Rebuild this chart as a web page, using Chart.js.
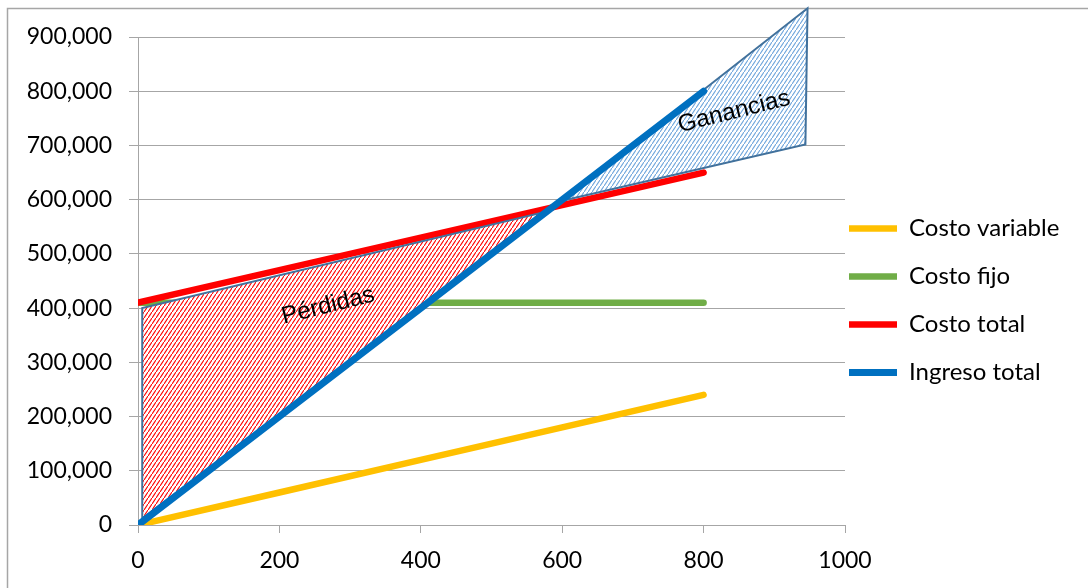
<!DOCTYPE html>
<html>
<head>
<meta charset="utf-8">
<script src="https://cdn.jsdelivr.net/npm/chart.js@4.4.1/dist/chart.umd.min.js"></script>
<style>
  html, body { margin: 0; padding: 0; background: #fff; }
  #wrap { width: 1088px; height: 588px; }
</style>
</head>
<body>
<div id="wrap"><canvas id="equilibrioChart"></canvas></div>
<script>
// datos del punto de equilibrio
const unidades = [0, 200, 400, 600, 800];
const costoVariable = [0, 60000, 120000, 180000, 240000];
const costoFijo = [410000, 410000, 410000, 410000, 410000];
const costoTotal = [410000, 470000, 530000, 590000, 650000];
const ingresoTotal = [0, 200000, 400000, 600000, 800000];

const xTicks = [0, 200, 400, 600, 800, 1000];
const yTicks = [0, 100000, 200000, 300000, 400000, 500000, 600000, 700000, 800000, 900000];

// zonas sombreadas (formas encima del grafico), en unidades de los ejes
const zonaPerdidas = [[6, 400000], [6, 12000], [578, 578000]];
const zonaGanancias = [[600, 598000], [947, 953000], [944, 702000]];

const FONT = 'Lato, "Open Sans", sans-serif';

function toPoints(ys) {
  return unidades.map((u, i) => ({ x: u, y: ys[i] }));
}

function hatch(color) {
  const c = document.createElement('canvas');
  c.width = 4; c.height = 6;
  const g = c.getContext('2d');
  g.fillStyle = '#fff';
  g.fillRect(0, 0, 4, 6);
  g.strokeStyle = color;
  g.lineWidth = 1.1;
  g.beginPath();
  g.moveTo(-1, 7.5);
  g.lineTo(5, -1.5);
  g.stroke();
  return g.createPattern(c, 'repeat');
}

const marcoPlugin = {
  id: 'marco',
  beforeDraw(chart) {
    const ctx = chart.ctx;
    ctx.save();
    ctx.fillStyle = '#fff';
    ctx.fillRect(0, 0, chart.width, chart.height);
    ctx.strokeStyle = '#a6a6a6';
    ctx.lineWidth = 1.5;
    ctx.beginPath();
    ctx.moveTo(7.5, chart.height);
    ctx.lineTo(7.5, 8.5);
    ctx.lineTo(chart.width, 8.5);
    ctx.stroke();
    ctx.restore();
  }
};

const zonasPlugin = {
  id: 'zonas',
  beforeDatasetDraw(chart, args) {
    if (args.index !== 3) return;   // justo antes de "Ingreso total"
    const { ctx, scales: { x, y } } = chart;
    [[zonaPerdidas, hatch('#ff0000')], [zonaGanancias, hatch('#6fa6dc')]].forEach(([pts, fill]) => {
      ctx.save();
      ctx.beginPath();
      pts.forEach(([vx, vy], i) => {
        const px = x.getPixelForValue(vx), py = y.getPixelForValue(vy);
        if (i) ctx.lineTo(px, py); else ctx.moveTo(px, py);
      });
      ctx.closePath();
      ctx.fillStyle = fill;
      ctx.fill();
      ctx.strokeStyle = '#41719c';
      ctx.lineWidth = 2;
      ctx.stroke();
      ctx.restore();
    });
  },
  afterDatasetsDraw(chart) {
    const { ctx, scales: { x, y } } = chart;
    const textos = [['Pérdidas', 269, 404000], ['Ganancias', 843, 762000]];
    textos.forEach(([t, vx, vy]) => {
      ctx.save();
      ctx.translate(x.getPixelForValue(vx), y.getPixelForValue(vy));
      ctx.rotate(-14 * Math.PI / 180);
      ctx.font = '24px "Liberation Sans", Arial, sans-serif';
      ctx.fillStyle = '#000';
      ctx.textAlign = 'center';
      ctx.textBaseline = 'middle';
      ctx.fillText(t, 0, 0);
      ctx.restore();
    });
  }
};

// mueve la leyenda hacia el grafico
const leyendaPlugin = {
  id: 'leyendaPos',
  afterLayout(chart) {
    const l = chart.legend;
    const dx = 849 - 24 - l.left;
    l.left += dx; l.right += dx;
    l.top -= 12; l.bottom -= 12;
  }
};

const ctx = document.getElementById('equilibrioChart').getContext('2d');

new Chart(ctx, {
  type: 'line',
  data: {
    datasets: [
      { label: 'Costo variable', data: toPoints(costoVariable), borderColor: '#ffc000', backgroundColor: '#ffc000', borderWidth: 6.5, order: 3 },
      { label: 'Costo fijo', data: toPoints(costoFijo), borderColor: '#70ad47', backgroundColor: '#70ad47', borderWidth: 6.5, order: 2 },
      { label: 'Costo total', data: toPoints(costoTotal), borderColor: '#ff0000', backgroundColor: '#ff0000', borderWidth: 6.5, order: 1 },
      { label: 'Ingreso total', data: toPoints(ingresoTotal), borderColor: '#0070c0', backgroundColor: '#0070c0', borderWidth: 7, order: 0 }
    ]
  },
  options: {
    responsive: true,
    maintainAspectRatio: false,
    animation: false,
    devicePixelRatio: 1,
    layout: { padding: { top: 37, left: 0, right: 0, bottom: 0 } },
    elements: {
      line: { borderCapStyle: 'round', tension: 0 },
      point: { radius: 0 }
    },
    scales: {
      x: {
        type: 'linear',
        min: 0, max: 1000,
        afterBuildTicks: s => { s.ticks = xTicks.map(v => ({ value: v })); },
        afterFit: s => { s.height = 63; },
        grid: { drawOnChartArea: false, color: '#a6a6a6', tickLength: 8 },
        border: { color: '#a6a6a6' },
        ticks: { font: { family: FONT, size: 23 }, color: '#000', padding: 14, maxRotation: 0, callback: v => String(v) }
      },
      y: {
        min: 0, max: 900000,
        afterBuildTicks: s => { s.ticks = yTicks.map(v => ({ value: v })); },
        afterFit: s => { s.width = 138; },
        grid: { color: '#a6a6a6', tickLength: 9 },
        border: { color: '#a6a6a6' },
        ticks: {
          font: { family: FONT, size: 23 }, color: '#000', padding: 17,
          callback: v => v.toLocaleString('en-US')
        }
      }
    },
    plugins: {
      tooltip: { enabled: false },
      legend: {
        position: 'right',
        maxWidth: 243,
        labels: {
          usePointStyle: true,
          pointStyle: 'line',
          pointStyleWidth: 48,
          padding: 24,
          color: '#000',
          font: { family: FONT, size: 24 },
          sort: (a, b) => a.datasetIndex - b.datasetIndex
        }
      }
    }
  },
  plugins: [marcoPlugin, zonasPlugin, leyendaPlugin]
});
</script>
</body>
</html>
